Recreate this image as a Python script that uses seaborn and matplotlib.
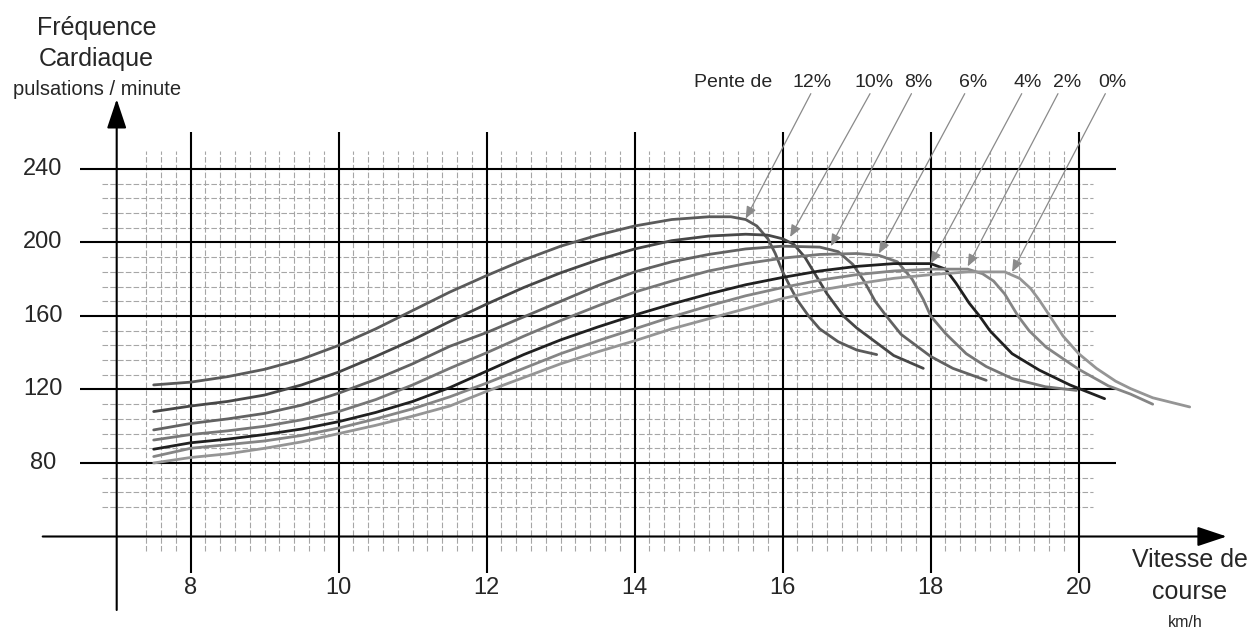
import numpy as np
import pandas as pd
import matplotlib
matplotlib.use("Agg")
import matplotlib.pyplot as plt
import seaborn as sns

sns.set_theme(style="white")
plt.rcParams['font.family'] = ['Liberation Sans', 'DejaVu Sans']

# ---------------- data ----------------
pentes = ["12%", "10%", "8%", "6%", "4%", "2%", "0%"]

x_12 = [7.5, 8, 8.5, 9, 9.5, 10, 10.5, 11, 11.5, 12, 12.5, 13, 13.5, 14, 14.5, 15, 15.3, 15.5,
        15.65, 15.8, 15.9, 16.0, 16.1, 16.2, 16.35, 16.5, 16.75, 17.0, 17.27]
y_12 = [122.5, 124, 127, 131, 136.5, 144, 153, 163, 173, 182, 190.5, 198, 204, 209, 212.5, 214, 214, 212.5,
        209, 202, 194, 184, 176, 168.5, 160, 153, 146, 141.5, 139]

x_10 = [7.5, 8, 8.5, 9, 9.5, 10, 10.5, 11, 11.5, 12, 12.5, 13, 13.5, 14, 14.5, 15, 15.5, 15.8,
        16.0, 16.15, 16.3, 16.45, 16.6, 16.82, 17.0, 17.15, 17.5, 17.9]
y_10 = [108, 111, 113.5, 117, 122.5, 129.5, 138, 147, 157, 166.5, 175.5, 183.5, 190.5, 196.5, 201, 203.5, 204.5, 204,
        202, 199, 192, 182, 172, 160, 153.5, 149, 138.5, 131.5]

x_8 = [7.5, 8, 8.5, 9, 9.5, 10, 10.5, 11, 11.5, 12, 12.5, 13, 13.5, 14, 14.5, 15, 15.5, 16, 16.5,
       16.75, 16.95, 17.1, 17.25, 17.4, 17.6, 18.0, 18.3, 18.75]
y_8 = [98, 101.5, 104, 107, 111.5, 118, 125.5, 134, 143.5, 151, 159.5, 168, 176.5, 184, 189.5, 193.5, 196.5, 198, 197.5,
       195, 188, 179, 168, 160, 150, 138, 131.5, 125]

x_6 = [7.5, 8, 8.5, 9, 9.5, 10, 10.5, 11, 11.5, 12, 12.5, 13, 13.5, 14, 14.5, 15, 15.5, 16, 16.5, 17,
       17.3, 17.55, 17.75, 17.9, 18.0, 18.2, 18.48, 18.75, 19.1, 19.55, 19.97]
y_6 = [92.5, 95.5, 97.5, 100, 103.5, 108, 114.5, 122.5, 131.5, 140, 149, 157.5, 165.5, 173, 179, 184.5, 188.5, 191.5, 193.5, 194,
       193, 189.5, 180, 169, 160, 150.5, 139.5, 132.5, 126, 121.5, 119.5]

x_4 = [7.5, 8, 8.5, 9, 9.5, 10, 10.5, 11, 11.5, 12, 12.5, 13, 13.5, 14, 14.5, 15, 15.5, 16, 16.5, 17, 17.5, 18,
       18.2, 18.34, 18.52, 18.66, 18.8, 19.1, 19.47, 19.88, 20.35]
y_4 = [87.5, 91, 93, 95.5, 98.5, 102.5, 107.5, 113.5, 121, 130, 139, 147, 154, 160.5, 166.5, 172, 177, 181, 184.5, 187, 188.5, 188.5,
       185.5, 178, 167, 160, 152, 139.5, 130.5, 122.5, 115]

x_2 = [7.5, 8, 8.5, 9, 9.5, 10, 10.5, 11, 11.5, 12, 12.5, 13, 13.5, 14, 14.5, 15, 15.5, 16, 16.5, 17, 17.5, 18, 18.5,
       18.7, 18.85, 19.0, 19.18, 19.33, 19.56, 20.0, 20.4, 20.7, 21.0]
y_2 = [83.5, 88, 90, 92, 95, 99, 104, 109.5, 116, 123.5, 131.5, 139.5, 146.5, 153, 159.5, 165.5, 171, 175.5, 179.5, 182.5, 184.5, 185.5, 185.5,
       183, 179, 172, 160, 152, 143, 131, 122, 117.5, 112]

x_0 = [7.5, 8, 8.5, 9, 9.5, 10, 10.5, 11, 11.5, 12, 12.5, 13, 13.5, 14, 14.5, 15, 15.5, 16, 16.5, 17, 17.5, 18, 18.5, 19.0,
       19.2, 19.35, 19.47, 19.61, 19.79, 20.0, 20.24, 20.5, 20.7, 21.0, 21.5]
y_0 = [80, 83, 85, 88, 91.5, 96, 100.5, 105.5, 111, 119, 126.5, 134, 140.5, 146.5, 153, 158.5, 164, 169.5, 174, 177.5, 180.5, 182.5, 184, 184,
       180.5, 175, 168.5, 160, 149, 139.5, 131.5, 124.5, 120.5, 115.5, 110.5]

# points where each label arrow touches its curve (speed, bpm)
arrow_x = [15.5, 16.1, 16.65, 17.3, 18.0, 18.5, 19.1]
arrow_y = [213, 203, 198, 194, 188.5, 187, 184]

y_major = [80, 120, 160, 200, 240]
x_major = [8, 10, 12, 14, 16, 18, 20]

# ---------------- build table ----------------
xs = [x_12, x_10, x_8, x_6, x_4, x_2, x_0]
ys = [y_12, y_10, y_8, y_6, y_4, y_2, y_0]
frames = []
for p, xv, yv in zip(pentes, xs, ys):
    frames.append(pd.DataFrame({"vitesse": xv, "fc": yv, "pente": p}))
df = pd.concat(frames, ignore_index=True)

palette = {"12%": "#5a5a5a", "10%": "#474747", "8%": "#626262", "6%": "#767676",
           "4%": "#202020", "2%": "#858585", "0%": "#959595"}

# ---------------- figure ----------------
fig = plt.figure(figsize=(12.54, 6.31), dpi=100)
ax = fig.add_axes([0, 0, 1, 1])

# minor grid (dashed)
minor_y = [v for v in np.arange(56, 233, 8) if v not in y_major]
minor_x = [round(v, 1) for v in np.arange(7.4, 19.85, 0.2)]
minor_x = [v for v in minor_x if all(abs(v - m) > 0.05 for m in x_major)]
ax.hlines(minor_y, 6.8, 20.2, colors="#a6a6a6", linewidth=0.8, linestyles=(0, (5, 2)), zorder=1)
ax.vlines(minor_x, 32, 250, colors="#a6a6a6", linewidth=0.8, linestyles=(0, (5, 2)), zorder=1)

# major grid
ax.hlines(y_major, 6.5, 20.5, colors="black", linewidth=1.5, zorder=2)
ax.vlines(x_major, 20, 260, colors="black", linewidth=1.5, zorder=2)

# axes with arrows
ax.annotate("", xy=(22.0, 40), xytext=(6.0, 40),
            arrowprops=dict(arrowstyle="-|>,head_length=0.9,head_width=0.3", color="black", lw=1.5,
                            mutation_scale=20, shrinkA=0, shrinkB=0), zorder=3)
ax.annotate("", xy=(7.0, 278), xytext=(7.0, 0),
            arrowprops=dict(arrowstyle="-|>,head_length=0.9,head_width=0.3", color="black", lw=1.5,
                            mutation_scale=20, shrinkA=0, shrinkB=0), zorder=3)

# curves
sns.lineplot(data=df, x="vitesse", y="fc", hue="pente", palette=palette, sort=False,
             estimator=None, linewidth=2.0, legend=False, ax=ax, zorder=4)
ax.set_xlim(5.423, 22.369)
ax.set_ylim(-11.43, 331.97)
ax.axis("off")

# tick labels
for v in y_major:
    ax.text(6.0, v, str(v), ha="center", va="center", fontsize=17)
for v in x_major:
    ax.text(v, 12, str(v), ha="center", va="center", fontsize=17)

# axis titles
ax.text(6.73, 317, "Fréquence", ha="center", va="center", fontsize=18)
ax.text(6.73, 300, "Cardiaque", ha="center", va="center", fontsize=18)
ax.text(6.73, 283, "pulsations / minute", ha="center", va="center", fontsize=14.5)
ax.text(21.5, 27, "Vitesse de", ha="center", va="center", fontsize=18)
ax.text(21.5, 10, "course", ha="center", va="center", fontsize=18)
ax.text(21.44, -7, "km/h", ha="center", va="center", fontsize=11.5)

# slope labels and arrows
ax.text(15.33, 287.3, "Pente de", ha="center", va="center", fontsize=14)
label_x = [16.40, 17.23, 17.83, 18.57, 19.31, 19.84, 20.46]
start_x = [16.38, 17.18, 17.74, 18.46, 19.23, 19.72, 20.36]
for p, lx, sx, tx, ty in zip(pentes, label_x, start_x, arrow_x, arrow_y):
    ax.text(lx, 287.3, p, ha="center", va="center", fontsize=14)
    ax.annotate("", xy=(tx, ty), xytext=(sx, 281),
                arrowprops=dict(arrowstyle="-|>,head_length=0.6,head_width=0.25", color="#8a8a8a", lw=0.9,
                                mutation_scale=12, shrinkA=0, shrinkB=0), zorder=5)

fig.savefig("out.png", dpi=100)
